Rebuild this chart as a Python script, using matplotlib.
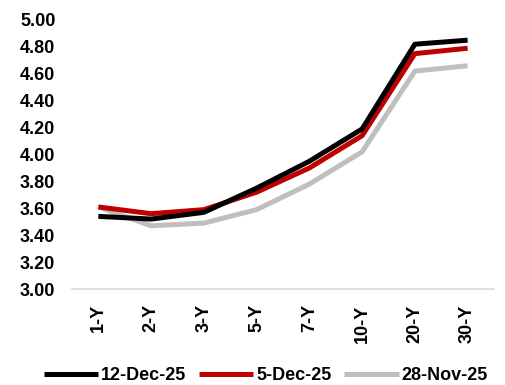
import matplotlib
matplotlib.use('Agg')
import matplotlib.pyplot as plt

plt.rcParams['font.family'] = ['Liberation Sans', 'DejaVu Sans']
plt.rcParams['font.weight'] = 'bold'

tenors = ["1-Y", "2-Y", "3-Y", "5-Y", "7-Y", "10-Y", "20-Y", "30-Y"]
dec12 = [3.54, 3.52, 3.57, 3.75, 3.95, 4.19, 4.82, 4.85]
dec05 = [3.61, 3.56, 3.59, 3.72, 3.90, 4.14, 4.75, 4.79]
nov28 = [3.61, 3.47, 3.49, 3.59, 3.78, 4.02, 4.62, 4.66]

series = [
    ("12-Dec-25", dec12, "#000000"),
    ("5-Dec-25", dec05, "#c00000"),
    ("28-Nov-25", nov28, "#bfbfbf"),
]

fig = plt.figure(figsize=(5.05, 3.85), dpi=100)
ax = fig.add_axes([72 / 505, 1 - 289 / 385, 422 / 505, 269 / 385])

x = range(len(tenors))
# draw back to front so black sits on top
for name, vals, col in reversed(series):
    ax.plot(x, vals, color=col, lw=3.6, label=name, solid_capstyle='butt')

ax.set_xlim(-0.5, len(tenors) - 0.5)
ax.set_ylim(3.0, 5.0)
ax.set_yticks([3.0 + 0.2 * i for i in range(11)])
ax.set_yticklabels([f"{3.0 + 0.2 * i:.2f}" for i in range(11)])
ax.set_xticks(list(x))
ax.set_xticklabels(tenors, rotation=90)
ax.tick_params(axis='both', length=0, labelsize=13)
ax.tick_params(axis='y', pad=12)
ax.tick_params(axis='x', pad=11)

for s in ['top', 'right', 'left']:
    ax.spines[s].set_visible(False)
ax.spines['bottom'].set_color('#d9d9d9')
ax.spines['bottom'].set_linewidth(1.2)

handles, labels = ax.get_legend_handles_labels()
fig.legend(handles[::-1], labels[::-1], loc='center', bbox_to_anchor=(266 / 505, 1 - 376 / 385),
           ncol=3, frameon=False, fontsize=13, handlelength=3.0, handletextpad=0.17,
           columnspacing=0.7)

fig.savefig('out.png', dpi=100)
